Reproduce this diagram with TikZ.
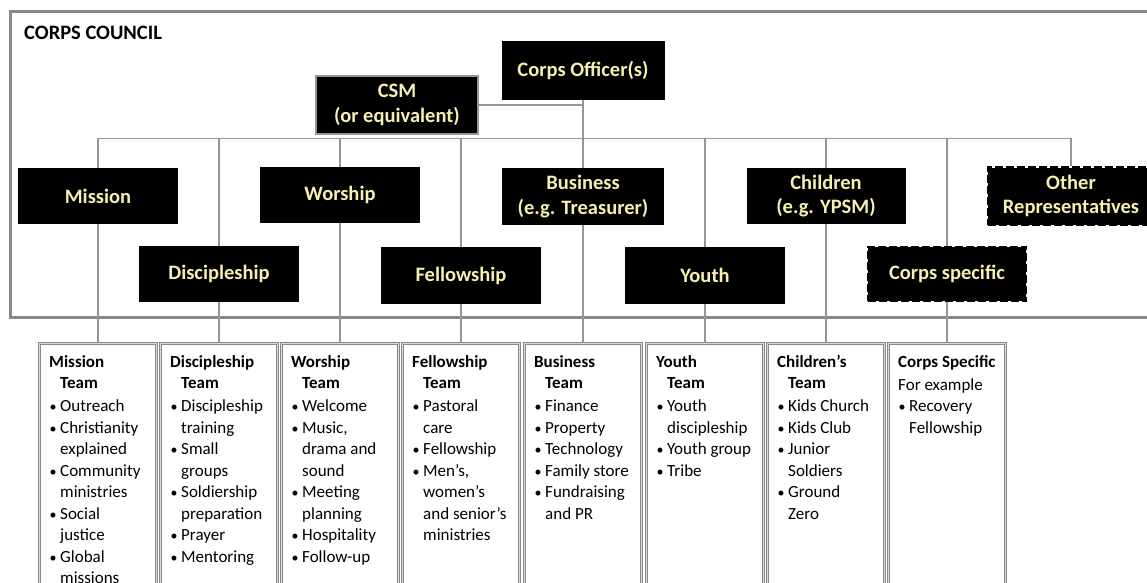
\documentclass[tikz,border=0pt]{standalone}
\usepackage{fontspec}
\setmainfont{Carlito}
\definecolor{cream}{RGB}{246,240,176}
\definecolor{framegray}{RGB}{136,136,136}
\definecolor{linegray}{RGB}{150,150,150}
% team list helpers
\newcommand{\nl}{\hfil\break}
\newcommand{\teamhead}[2]{\textbf{#1}\par\hspace*{11pt}\textbf{#2}\par\vspace{1.5pt}}
\newcommand{\itm}[1]{\hangindent=11pt\hangafter=1\noindent\makebox[11pt][l]{\hspace{0.5pt}{\fontsize{14}{14}\selectfont •}}#1\par}
\newcommand{\teamlist}[1]{\parbox[t]{112pt}{\fontsize{17}{21.5}\selectfont\raggedright\setlength{\parindent}{0pt}\setlength{\parskip}{0pt}#1}}
\begin{document}
\begin{tikzpicture}[x=1pt,y=-1pt,
  rolebox/.style={fill=black, text=cream, inner sep=0pt, align=center,
    font=\fontsize{20.5}{24.5}\selectfont\bfseries},
  dashbox/.style={rolebox, draw=black, line width=2.5pt, dash pattern=on 8pt off 3pt},
  link/.style={draw=linegray, line width=1.5pt},
  teambox/.style={draw=framegray, double=gray!30, double distance=0.8pt, line width=1.1pt,
    minimum width=117pt, minimum height=280pt, anchor=north, inner sep=0pt},
  teamtext/.style={anchor=base west, inner sep=0pt}
]
\useasboundingbox (0,0) rectangle (1147,582);
\clip (0,0) rectangle (1147,582);

% council frame
\draw[framegray, line width=3pt] (10,11) rectangle (1153,317);
\node[anchor=west, inner sep=0pt, font=\fontsize{20.5}{24}\selectfont\bfseries] (title) at (24,33) {CORPS COUNCIL};

% leadership
\node[rolebox, minimum width=163pt, minimum height=59pt] (officer) at (583,70.5) {Corps Officer(s)};
\node[rolebox, draw=linegray, line width=1.2pt, minimum width=162pt, minimum height=58pt] (csm) at (397,105) {CSM\\(or equivalent)};

% first row of representatives
\node[rolebox, minimum width=160pt, minimum height=56pt] (mission) at (98,196) {Mission};
\node[rolebox, minimum width=160pt, minimum height=56pt] (worship) at (340,195) {Worship};
\node[rolebox, minimum width=162pt, minimum height=57pt] (business) at (583,196.5) {Business\\(e.g. Treasurer)};
\node[rolebox, minimum width=159pt, minimum height=56pt] (children) at (826,196) {Children\\(e.g. YPSM)};
\node[dashbox, minimum width=166pt, minimum height=57pt] (other) at (1071,196) {Other\\Representatives};

% second row of representatives
\node[rolebox, minimum width=160pt, minimum height=56pt] (disc) at (219,274) {Discipleship};
\node[rolebox, minimum width=160pt, minimum height=57pt] (fellow) at (461,275.5) {Fellowship};
\node[rolebox, minimum width=160pt, minimum height=57pt] (youth) at (705,275.5) {Youth};
\node[dashbox, minimum width=158pt, minimum height=54pt] (corps) at (947,274) {Corps specific};

% team boxes
\node[teambox] (tmission) at (98,343) {};
\node[teambox] (tdisc) at (219,343) {};
\node[teambox] (tworship) at (340,343) {};
\node[teambox] (tfellow) at (461,343) {};
\node[teambox] (tbusiness) at (583,343) {};
\node[teambox] (tyouth) at (705,343) {};
\node[teambox] (tchildren) at (826,343) {};
\node[teambox] (tcorps) at (947,343) {};

% reporting lines
\coordinate (bus) at (98,138.5);
\draw[link] (mission.north) -- (mission.north |- bus) -- (other.north |- bus) -- (other.north);
\foreach \n in {disc,worship,fellow,youth,children,corps}
  \draw[link] (\n.north) -- (\n.north |- bus);
\draw[link] (officer.south) -- (business.north);
\draw[link] (csm.east) -- (csm.east -| officer.south);
\foreach \a/\b in {mission/tmission,disc/tdisc,worship/tworship,fellow/tfellow,business/tbusiness,youth/tyouth,children/tchildren,corps/tcorps}
  \draw[link] (\a.south) -- (\b.north);

% team contents
\node[teamtext] (xmission) at (49,367) {\teamlist{\teamhead{Mission}{Team}
  \itm{Outreach}\itm{Christianity\nl explained}\itm{Community\nl ministries}\itm{Social\nl justice}\itm{Global\nl missions}}};
\node[teamtext] (xdisc) at (170,367) {\teamlist{\teamhead{Discipleship}{Team}
  \itm{Discipleship\nl training}\itm{Small\nl groups}\itm{Soldiership\nl preparation}\itm{Prayer}\itm{Mentoring}}};
\node[teamtext] (xworship) at (291,367) {\teamlist{\teamhead{Worship}{Team}
  \itm{Welcome}\itm{Music,\nl drama and\nl sound}\itm{Meeting\nl planning}\itm{Hospitality}\itm{Follow-up}}};
\node[teamtext] (xfellow) at (412,367) {\teamlist{\teamhead{Fellowship}{Team}
  \itm{Pastoral\nl care}\itm{Fellowship}\itm{Men’s,\nl women’s\nl and senior’s\nl ministries}}};
\node[teamtext] (xbusiness) at (534,367) {\teamlist{\teamhead{Business}{Team}
  \itm{Finance}\itm{Property}\itm{Technology}\itm{Family store}\itm{Fundraising\nl and PR}}};
\node[teamtext] (xyouth) at (656,367) {\teamlist{\teamhead{Youth}{Team}
  \itm{Youth\nl discipleship}\itm{Youth group}\itm{Tribe}}};
\node[teamtext] (xchildren) at (777,367) {\teamlist{\teamhead{Children’s}{Team}
  \itm{Kids Church}\itm{Kids Club}\itm{Junior\nl Soldiers}\itm{Ground\nl Zero}}};
\node[teamtext] (xcorps) at (898,367) {\teamlist{\textbf{Corps Specific}\par\vspace{1.5pt}For example\par
  \itm{Recovery\nl Fellowship}}};
\end{tikzpicture}
\end{document}
